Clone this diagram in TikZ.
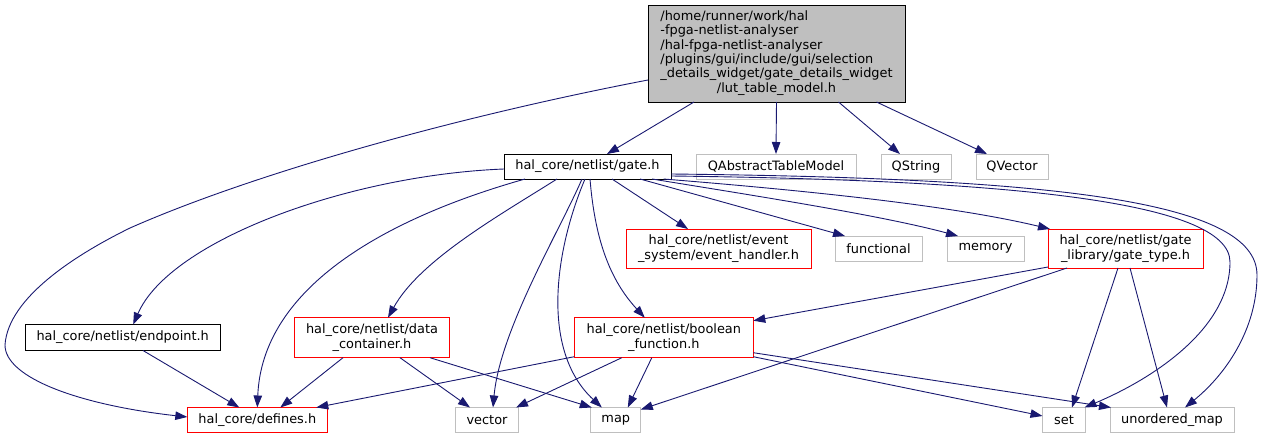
\documentclass[tikz,border=0pt]{standalone}
\usepackage{fontspec}
\setmainfont{DejaVu Sans}
\usetikzlibrary{arrows.meta}
\definecolor{edgeblue}{HTML}{191970}
\definecolor{extgray}{HTML}{BFBFBF}
\definecolor{topfill}{HTML}{BFBFBF}
\definecolor{hred}{HTML}{FF0000}
\begin{document}
\begin{tikzpicture}[x=1pt,y=-1pt,
  box/.style={rectangle,inner sep=0pt,outer sep=0pt,line width=1pt,align=center,font=\fontsize{12.9}{14.3}\selectfont},
  mainbox/.style={box,draw=black},
  redbox/.style={box,draw=hred},
  extbox/.style={box,draw=extgray},
  dep/.style={draw=edgeblue,line width=0.9pt,-{Triangle[length=12pt,width=8.5pt]}},
]
\useasboundingbox (0,0) rectangle (1262,439);

\node[mainbox,fill=topfill,minimum width=257pt,minimum height=97pt] (top) at (776.5,53.5)
  {\begin{tabular}{@{}l@{}}/home/runner/work/hal\\-fpga-netlist-analyser\\/hal-fpga-netlist-analyser\\/plugins/gui/include/gui/selection\\\_details\_widget/gate\_details\_widget\\\multicolumn{1}{@{}c@{}}{/lut\_table\_model.h}\end{tabular}};
\node[mainbox,minimum width=167pt,minimum height=25pt] (gate) at (587.5,166.5) {hal\_core/netlist/gate.h};
\node[extbox,minimum width=160pt,minimum height=25pt] (qatm) at (776,166.5) {QAbstractTableModel};
\node[extbox,minimum width=70pt,minimum height=25pt] (qstr) at (916,166.5) {QString};
\node[extbox,minimum width=72pt,minimum height=25pt] (qvec) at (1012,166.5) {QVector};
\node[redbox,minimum width=185pt,minimum height=39pt] (evt) at (718.5,248.5) {hal\_core/netlist/event\\\_system/event\_handler.h};
\node[extbox,minimum width=87pt,minimum height=25pt] (func) at (878.5,248.5) {functional};
\node[extbox,minimum width=77pt,minimum height=25pt] (mem) at (985.5,248.5) {memory};
\node[redbox,minimum width=155pt,minimum height=39pt] (gtype) at (1125.5,248.5) {hal\_core/netlist/gate\\\_library/gate\_type.h};
\node[mainbox,minimum width=195pt,minimum height=26pt] (endp) at (122.7,337.5) {hal\_core/netlist/endpoint.h};
\node[redbox,minimum width=155pt,minimum height=40pt] (dcont) at (372,337.7) {hal\_core/netlist/data\\\_container.h};
\node[redbox,minimum width=179pt,minimum height=40pt] (bfunc) at (663.8,337.7) {hal\_core/netlist/boolean\\\_function.h};
\node[redbox,minimum width=140pt,minimum height=25pt] (defs) at (257.3,420) {hal\_core/defines.h};
\node[extbox,minimum width=63pt,minimum height=25pt] (vec) at (487,420) {vector};
\node[extbox,minimum width=50pt,minimum height=25pt] (nmap) at (615.8,420) {map};
\node[extbox,minimum width=43pt,minimum height=25pt] (nset) at (1064,420) {set};
\node[extbox,minimum width=124pt,minimum height=25pt] (umap) at (1172,420) {unordered\_map};

% from top node
\draw[dep] ([yshift=-26.5pt]top.west) .. controls (450,118) and (250,175) .. (130,228)
  .. controls (75,255) and (8,298) .. (5,345)
  .. controls (5,378) and (80,405) .. ([yshift=3pt]defs.west);
\draw[dep] ([xshift=-82.5pt]top.south) -- ([xshift=19.5pt]gate.north);
\draw[dep] (top.south) -- (qatm.north);
\draw[dep] ([xshift=62pt]top.south) -- ([xshift=-16pt]qstr.north);
\draw[dep] ([xshift=100pt]top.south) -- ([xshift=-25pt]qvec.north);

% from gate.h
\draw[dep] ([yshift=-2.5pt]gate.west) .. controls (350,175) and (170,240) .. ([xshift=10.5pt]endp.north);
\draw[dep] ([xshift=-62.5pt]gate.south) .. controls (380,220) and (262,290) .. (defs.north);
\draw[dep] ([xshift=-30.5pt]gate.south) .. controls (500,215) and (420,260) .. ([xshift=16pt]dcont.north);
\draw[dep] ([xshift=-5.5pt]gate.south) .. controls (560,230) and (500,330) .. ([xshift=6pt]vec.north);
\draw[dep] ([xshift=-2.5pt]gate.south) .. controls (555,250) and (540,350) .. ([xshift=-14pt]nmap.north);
\draw[dep] ([xshift=2.5pt]gate.south) .. controls (595,240) and (610,280) .. ([xshift=-19pt]bfunc.north);
\draw[dep] ([xshift=24.5pt]gate.south) -- ([xshift=-30.5pt]evt.north);
\draw[dep] ([xshift=52.5pt]gate.south) -- ([xshift=-33.5pt]func.north);
\draw[dep] ([xshift=64.5pt]gate.south) .. controls (750,195) and (880,215) .. ([xshift=-27.5pt]mem.north);
\draw[dep] ([xshift=76pt]gate.south) .. controls (800,190) and (950,205) .. ([xshift=2pt]gtype.north west);
\draw[dep] ([yshift=-9.5pt]gate.east) .. controls (1000,180) and (1230,200) .. (1230,262)
  .. controls (1230,330) and (1150,380) .. ([xshift=-1pt]nset.north east);
\draw[dep] ([yshift=-7.5pt]gate.east) .. controls (1050,178) and (1257,200) .. (1257,275)
  .. controls (1257,330) and (1225,375) .. ([xshift=13pt]umap.north);

% lower level
\draw[dep] ([xshift=20.3pt]endp.south) -- ([xshift=-18pt]defs.north);
\draw[dep] ([xshift=-29pt]dcont.south) -- ([xshift=23pt]defs.north);
\draw[dep] ([xshift=28pt]dcont.south) -- ([xshift=-17pt]vec.north);
\draw[dep] ([xshift=58pt]dcont.south) -- ([xshift=1pt]nmap.north west);
\draw[dep] ([yshift=1pt]bfunc.south west) -- ([xshift=-11pt]defs.north east);
\draw[dep] ([xshift=-42pt]bfunc.south) -- ([xshift=29pt]vec.north);
\draw[dep] ([xshift=-12pt]bfunc.south) -- ([xshift=12pt]nmap.north);
\draw[dep] ([yshift=-15pt]bfunc.east) -- ([xshift=1pt]umap.north west);
\draw[dep] ([yshift=-19pt]bfunc.east) -- ([yshift=4pt]nset.west);
\draw[dep] ([yshift=1pt]gtype.south west) -- ([yshift=-3pt]bfunc.north east);
\draw[dep] ([xshift=-58.5pt]gtype.south) -- ([yshift=-2pt]nmap.north east);
\draw[dep] ([xshift=-7.5pt]gtype.south) -- ([xshift=8pt]nset.north);
\draw[dep] ([xshift=4.5pt]gtype.south) -- ([xshift=-5pt]umap.north);
\end{tikzpicture}
\end{document}
